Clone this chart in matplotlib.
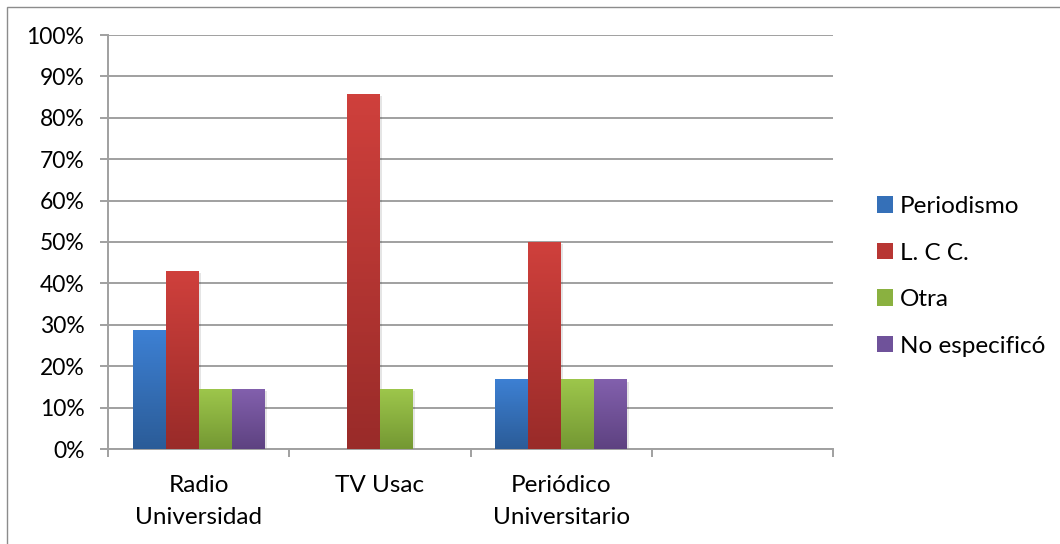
import numpy as np
import matplotlib
matplotlib.use('Agg')
import matplotlib.pyplot as plt
from matplotlib.patches import Rectangle
from matplotlib.colors import LinearSegmentedColormap

plt.rcParams['font.family'] = ['Lato', 'DejaVu Sans']

# data
categories = ['Radio\nUniversidad', 'TV Usac', 'Periódico\nUniversitario', '']
series = ['Periodismo', 'L. C C.', 'Otra', 'No especificó']
periodismo = [28.6, 0, 16.7, 0]
lcc = [42.9, 85.7, 50.0, 0]
otra = [14.3, 14.3, 16.7, 0]
no_especifico = [14.3, 0, 16.7, 0]
values = [periodismo, lcc, otra, no_especifico]

# gradient colours (top, bottom)
grads = [('#3d80d3', '#2b5c98'),
         ('#cf403c', '#992b29'),
         ('#9dc64b', '#749833'),
         ('#8260ad', '#5e4281')]
mids = ['#3570b8', '#b83633', '#8ab140', '#6f529a']

fig = plt.figure(figsize=(10.6, 5.44), dpi=100)
ax = fig.add_axes([108/1060, 1-449/544, (833-108)/1060, (449-35)/544])

# outer chart border (left/top visible)
fig.patches.append(Rectangle((7/1060, -0.05), 1.2, (544-7)/544 + 0.05,
                             transform=fig.transFigure, fill=False,
                             edgecolor='#8c8c8c', linewidth=1.0))

x = np.arange(len(categories))
w = 0.182
offsets = (np.arange(4) - 1.5) * w

for i, s in enumerate(series):
    bars = ax.bar(x + offsets[i], values[i], w, color='none', zorder=3, label=s)
    cmap = LinearSegmentedColormap.from_list('g%d' % i, [grads[i][1], grads[i][0]])
    for b in bars:
        h = b.get_height()
        if h <= 0:
            continue
        x0 = b.get_x()
        # soft shadow
        ax.add_patch(Rectangle((x0 + 0.012, -0.4), b.get_width(), h, facecolor='#000000',
                               alpha=0.10, edgecolor='none', zorder=2))
        grad = np.linspace(0, 1, 100).reshape(-1, 1)
        ax.imshow(grad, cmap=cmap, origin='lower', aspect='auto',
                  extent=[x0, x0 + b.get_width(), 0, h], zorder=3)

ax.set_xlim(-0.5, 3.5)
ax.set_ylim(0, 100)
ax.set_yticks(np.arange(0, 101, 10))
ax.set_yticklabels(['%d%%' % v for v in range(0, 101, 10)])
ax.set_xticks(x)
ax.set_xticklabels(categories, linespacing=1.65)
ax.set_xticks(np.arange(-0.5, 4, 1), minor=True)

ax.yaxis.grid(True, color='#a0a0a0', linewidth=1.4, zorder=0)
ax.set_axisbelow(True)
for sp in ['top', 'right']:
    ax.spines[sp].set_visible(False)
for sp in ['left', 'bottom']:
    ax.spines[sp].set_color('#a0a0a0')
    ax.spines[sp].set_linewidth(1.4)

ax.tick_params(axis='y', length=6, width=1.4, color='#a0a0a0', pad=11,
               labelsize=16.5, labelcolor='black')
ax.tick_params(axis='x', which='major', length=0, pad=19, labelsize=17.5)
ax.tick_params(axis='x', which='minor', length=6, width=1.4, color='#a0a0a0')

handles = [Rectangle((0, 0), 1, 1, facecolor=c, edgecolor='none') for c in mids]
fig.legend(handles, series, loc='center left', bbox_to_anchor=(855/1060, 0.492),
           frameon=False, fontsize=17.5, handlelength=0.65, handleheight=0.65,
           handletextpad=0.3, labelspacing=1.05)

fig.savefig('out.png', dpi=100)
